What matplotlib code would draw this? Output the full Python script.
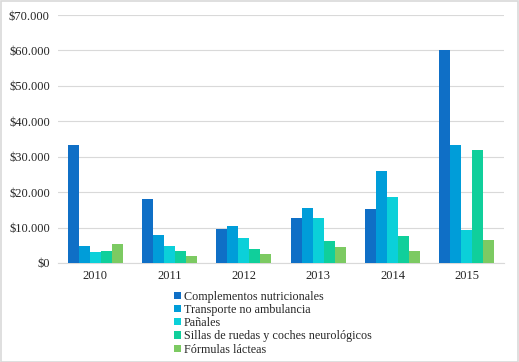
import matplotlib
matplotlib.use("Agg")
import matplotlib.pyplot as plt
import numpy as np
from matplotlib.ticker import FuncFormatter
from matplotlib.patches import Rectangle

plt.rcParams['font.family'] = ['Liberation Serif', 'DejaVu Serif']

years = ['2010', '2011', '2012', '2013', '2014', '2015']
series_names = ['Complementos nutricionales', 'Transporte no ambulancia', 'Pañales',
                'Sillas de ruedas y coches neurológicos', 'Fórmulas lácteas']
complementos = [33400, 18100, 9500, 12600, 15300, 60200]
transporte = [4900, 8000, 10450, 15500, 26100, 33200]
panales = [3100, 4900, 7060, 12600, 18600, 9300]
sillas = [3300, 3300, 3870, 6100, 7600, 32000]
formulas = [5300, 2000, 2600, 4400, 3500, 6600]
colors = ['#0F6FC6', '#009DD9', '#0BD0D9', '#10CF9B', '#7CCA62']

data = [complementos, transporte, panales, sillas, formulas]

fig = plt.figure(figsize=(5.19, 3.62), dpi=100)
ax = fig.add_axes([0.112, 0.2735, 0.859, 0.685])

x = np.arange(len(years))
w = 0.148
for i, (vals, c, name) in enumerate(zip(data, colors, series_names)):
    ax.bar(x + (i - 2) * w, vals, width=w, color=c, label=name, zorder=3)

ax.set_xlim(-0.5, len(years) - 0.5)
ax.set_ylim(0, 70000)
ax.set_yticks(np.arange(0, 70001, 10000))
ax.yaxis.set_major_formatter(FuncFormatter(lambda v, p: '$' + f'{int(v):,}'.replace(',', '.')))
ax.set_xticks(x)
ax.set_xticklabels(years)
ax.grid(axis='y', color='#D9D9D9', linewidth=0.8, zorder=0)
for s in ['top', 'right', 'left']:
    ax.spines[s].set_visible(False)
ax.spines['bottom'].set_color('#D9D9D9')
ax.tick_params(axis='both', length=0, labelsize=9, colors='#262626')
ax.tick_params(axis='y', pad=6)
ax.tick_params(axis='x', pad=5)

leg = fig.legend(loc='upper left', bbox_to_anchor=(0.335, 0.197), ncol=1, frameon=False,
                 fontsize=8.7, handlelength=0.55, handleheight=0.55, handletextpad=0.3,
                 labelspacing=0.1, borderpad=0, borderaxespad=0)
for t in leg.get_texts():
    t.set_color('#262626')

fig.patches.append(Rectangle((0.001, 0.001), 0.997, 0.996, transform=fig.transFigure,
                             fill=False, edgecolor='#D9D9D9', linewidth=1.2))
fig.savefig('out.png', dpi=100)
